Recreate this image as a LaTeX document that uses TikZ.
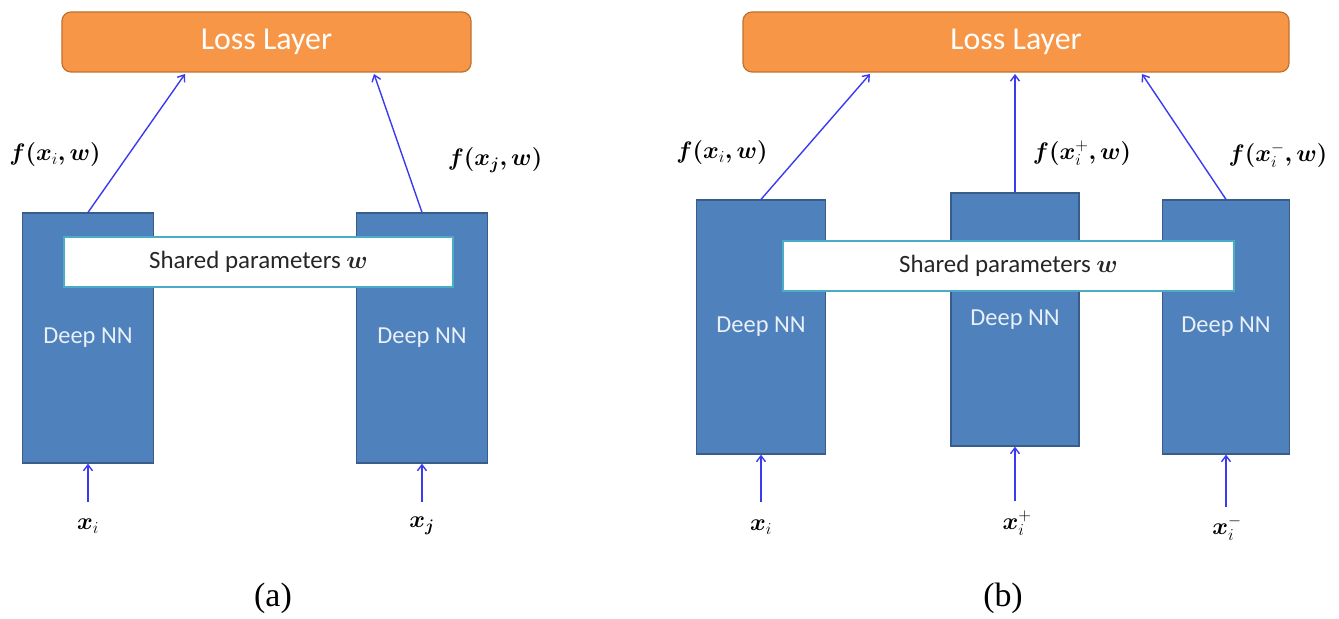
\RequirePackage{fix-cm}
\documentclass[tikz,border=0pt]{standalone}
\usepackage{bm}
\usepackage{fontspec}
\setmainfont{Carlito}
\newfontfamily\capfont{Liberation Serif}
\usetikzlibrary{arrows.meta}

\definecolor{lossfill}{HTML}{F79646}
\definecolor{lossedge}{HTML}{C0712F}
\definecolor{nnfill}{HTML}{4F81BD}
\definecolor{nnedge}{HTML}{385D8A}
\definecolor{sharededge}{HTML}{4BACC6}
\definecolor{flowblue}{HTML}{3A3AF0}
\definecolor{nntext}{HTML}{EAF0F8}

\tikzset{
  loss/.style={draw=lossedge, fill=lossfill, rounded corners=9bp, line width=1.2bp,
    text=white, font=\fontsize{32}{36}\selectfont, inner sep=0pt},
  nnbox/.style={draw=nnedge, fill=nnfill, line width=1.2bp, text=nntext,
    font=\fontsize{24.5}{28}\selectfont, inner sep=0pt},
  shared/.style={draw=sharededge, fill=white, line width=2.2bp, text=black!85,
    font=\fontsize{25}{30}\selectfont, inner sep=0pt},
  flow/.style={draw=flowblue, line width=1.4bp, -{Straight Barb[length=6bp,width=9bp]}},
  mlabel/.style={font=\fontsize{24}{28}\selectfont, inner sep=0pt},
  panelcap/.style={font=\capfont\fontsize{34}{38}\selectfont, inner sep=0pt}
}

\begin{document}
\begin{tikzpicture}[x=1bp,y=-1bp]
\useasboundingbox (0,0) rectangle (1339,619);

% ---------------- (a) two-branch network ----------------
\node[loss, minimum width=409bp, minimum height=60bp] (lossA) at (266.5,42) {Loss Layer};
\node[nnbox, minimum width=131bp, minimum height=250bp] (nnA1) at (88,338) {Deep NN};
\node[nnbox, minimum width=131bp, minimum height=250bp] (nnA2) at (422,338) {Deep NN};
\node[shared, minimum width=389bp, minimum height=50bp] (shA) at (258.5,262) {Shared parameters $\bm{w}$};

\coordinate (tA1) at (185,74);
\coordinate (tA2) at (374,74);
\draw[flow] (nnA1.north) -- (tA1);
\draw[flow] (nnA2.north) -- (tA2);

\node[mlabel] (fA1) at (55,155) {$\bm{f}\bm{(}\bm{x}_{i}\bm{,}\bm{w}\bm{)}$};
\node[mlabel] (fA2) at (495,160) {$\bm{f}\bm{(}\bm{x}_{\bm{j}}\bm{,}\bm{w}\bm{)}$};

\coordinate (iA1) at (88,502);
\coordinate (iA2) at (422,502);
\draw[flow] (iA1) -- (nnA1.south);
\draw[flow] (iA2) -- (nnA2.south);

\node[mlabel] (xA1) at (88,526) {$\bm{x}_{i}$};
\node[mlabel] (xA2) at (422,526) {$\bm{x}_{\bm{j}}$};

\node[panelcap] (capA) at (273,598) {(a)};

% ---------------- (b) three-branch network ----------------
\node[loss, minimum width=546bp, minimum height=60bp] (lossB) at (1016,42) {Loss Layer};
\node[nnbox, minimum width=129bp, minimum height=254bp] (nnB1) at (761,327) {Deep NN};
\node[nnbox, minimum width=128bp, minimum height=253bp] (nnB2) at (1015,319.5) {Deep NN};
\node[nnbox, minimum width=127bp, minimum height=254bp] (nnB3) at (1226,327) {Deep NN};
\node[shared, minimum width=451bp, minimum height=50bp] (shB) at (1008.5,266) {Shared parameters $\bm{w}$};

\coordinate (tB1) at (870,74);
\coordinate (tB2) at (1015,74);
\coordinate (tB3) at (1142,74);
\draw[flow] (nnB1.north) -- (tB1);
\draw[flow] (nnB2.north) -- (tB2);
\draw[flow] (nnB3.north) -- (tB3);

\node[mlabel] (fB1) at (722,153) {$\bm{f}\bm{(}\bm{x}_{i}\bm{,}\bm{w}\bm{)}$};
\node[mlabel] (fB2) at (1082,153) {$\bm{f}\bm{(}\bm{x}_{i}^{+}\bm{,}\bm{w}\bm{)}$};
\node[mlabel] (fB3) at (1278,155) {$\bm{f}\bm{(}\bm{x}_{i}^{-}\bm{,}\bm{w}\bm{)}$};

\coordinate (iB1) at (761,502);
\coordinate (iB2) at (1015,501);
\coordinate (iB3) at (1226,507);
\draw[flow] (iB1) -- (nnB1.south);
\draw[flow] (iB2) -- (nnB2.south);
\draw[flow] (iB3) -- (nnB3.south);

\node[mlabel] (xB1) at (761,527) {$\bm{x}_{i}$};
\node[mlabel] (xB2) at (1017,523) {$\bm{x}_{i}^{+}$};
\node[mlabel] (xB3) at (1227,528) {$\bm{x}_{i}^{-}$};

\node[panelcap] (capB) at (1003,598) {(b)};
\end{tikzpicture}
\end{document}
